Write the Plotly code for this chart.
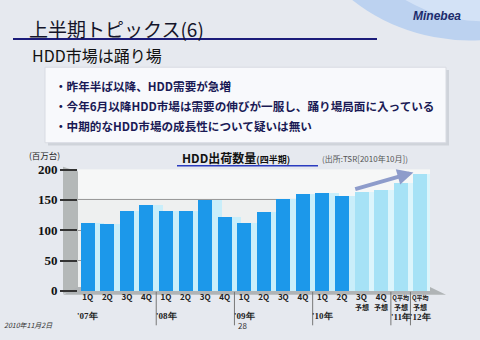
import plotly.graph_objects as go

# ---- data ----
quarters = ["1Q", "2Q", "3Q", "4Q", "1Q", "2Q", "3Q", "4Q", "1Q", "2Q", "3Q", "4Q",
            "1Q", "2Q", "3Q", "4Q", "Q平均", "Q平均"]
shipments = [112, 111, 133, 143, 132, 132, 151, 122, 113, 131, 152, 160,
             162, 157, 163, 167, 178, 194]
is_forecast = [False] * 14 + [True] * 4
year_labels = ["'07年", "'08年", "'09年", "'10年"]
year_first_bar = [0, 4, 8, 12]
forecast_years = ["'11年", "'12年"]
y_ticks = [0, 50, 100, 150, 200]
bullets = [
    "・昨年半ば以降、HDD需要が急増",
    "・今年6月以降HDD市場は需要の伸びが一服し、踊り場局面に入っている",
    "・中期的なHDD市場の成長性について疑いは無い",
]

W, H = 480, 340
def px(x): return x / W
def py(y): return 1 - y / H

JP = "Noto Sans CJK JP"
SERIF = "Liberation Serif"
xs = list(range(len(shipments)))

main_colors = ["#a6e2f6" if f else "#1c98ea" for f in is_forecast]
depth_colors = ["#dcf5fc" if f else "#c9eefa" for f in is_forecast]

fig = go.Figure()
fig.add_trace(go.Bar(x=xs, y=shipments, width=0.72, offset=0.12,
                     marker=dict(color=depth_colors, line=dict(width=0)),
                     hoverinfo="skip"))
fig.add_trace(go.Bar(x=xs, y=shipments, width=0.72, offset=-0.36,
                     marker=dict(color=main_colors, line=dict(width=0))))

shapes = []
# top-right decorative sphere
shapes.append(dict(type="circle", xref="paper", yref="paper",
                   x0=px(285), x1=px(655), y0=py(-335), y1=py(35),
                   fillcolor="#bcd2f0", line=dict(width=0), layer="below"))
shapes.append(dict(type="circle", xref="paper", yref="paper",
                   x0=px(330), x1=px(640), y0=py(-300), y1=py(15),
                   fillcolor="#d3e2f6", line=dict(width=0), layer="below"))
# title underline
shapes.append(dict(type="line", xref="paper", yref="paper",
                   x0=px(13), x1=px(377), y0=py(33.5), y1=py(33.5),
                   line=dict(color="#1c1c7a", width=2)))
# bullet box shadow + box
shapes.append(dict(type="rect", xref="paper", yref="paper",
                   x0=px(48), x1=px(449), y0=py(145), y1=py(66),
                   fillcolor="#cfd3da", line=dict(width=0), layer="below"))
shapes.append(dict(type="rect", xref="paper", yref="paper",
                   x0=px(45), x1=px(446), y0=py(142), y1=py(63),
                   fillcolor="#f8f9fc", line=dict(color="#d8dbe2", width=1), layer="below"))
# chart title underline
shapes.append(dict(type="line", xref="paper", yref="paper",
                   x0=px(177), x1=px(318), y0=py(166), y1=py(166),
                   line=dict(color="#2a3cc0", width=1.5)))
# back wall
shapes.append(dict(type="rect", xref="paper", yref="paper",
                   x0=px(78), x1=px(430), y0=py(297), y1=py(170),
                   fillcolor="#eef0f0", line=dict(width=0), layer="below"))
shapes.append(dict(type="rect", xref="paper", yref="paper",
                   x0=px(78), x1=px(430), y0=py(200), y1=py(170),
                   fillcolor="#f6f7f7", line=dict(width=0), layer="below"))
# left wall
shapes.append(dict(type="path", xref="paper", yref="paper",
                   path=f"M {px(63)} {py(300)} L {px(78)} {py(297)} L {px(78)} {py(172)} L {px(63)} {py(167)} Z",
                   fillcolor="#b4b8b8", line=dict(width=0), layer="below"))
# floor
shapes.append(dict(type="path", xref="paper", yref="paper",
                   path=f"M {px(63)} {py(301)} L {px(446)} {py(301)} L {px(430)} {py(293)} L {px(78)} {py(293)} Z",
                   fillcolor="#b0b4b6", line=dict(width=0), layer="below"))
# year separators
for sx in [3.5, 7.5, 11.5, 15.5, 16.5]:
    shapes.append(dict(type="line", xref="x", yref="paper",
                       x0=sx, x1=sx, y0=py(298), y1=py(333),
                       line=dict(color="#777777", width=1)))

ann = []
def t(x, y, text, size, color="#111111", family=JP, anchor="left", yanchor="middle", **kw):
    ann.append(dict(x=px(x), y=py(y), xref="paper", yref="paper", text=text,
                    showarrow=False, xanchor=anchor, yanchor=yanchor,
                    font=dict(size=size, color=color, family=family), **kw))

t(27, 23, "上半期トピックス(6)", 19, "#15152a")
t(30, 50, "HDD市場は踊り場", 16, "#111111")
t(463, 0, "<b><i>Minebea</i></b>", 12, "#1c2c6c", family="Liberation Sans",
  anchor="right", yanchor="top")
for i, b in enumerate(bullets):
    t(53, 83 + i * 21, f"<b>{b}</b>", 11.6, "#1a1a55")
t(27, 155, "(百万台)", 8.5, "#222222")
t(180, 157, "<b>HDD出荷数量</b><span style='font-size:9px'><b>(四半期)</b></span>", 12, "#111111")
t(320, 158, "(出所:TSR[2010年10月])", 8, "#555555")
t(2, 333, "<i>2010年11月2日</i>", 7, "#333333")
t(236, 333, "28", 8, "#333333")

for lbl, bi in zip(year_labels, year_first_bar):
    ann.append(dict(x=bi, y=py(323), xref="x", yref="paper", text=f"<b>{lbl}</b>",
                    showarrow=False, xanchor="center", yanchor="middle",
                    font=dict(size=9, color="#222222", family=SERIF)))
for bi in [14, 15, 16, 17]:
    ann.append(dict(x=bi, y=py(314), xref="x", yref="paper", text="<b>予想</b>",
                    showarrow=False, xanchor="center", yanchor="middle",
                    font=dict(size=7, color="#222222", family=JP)))
for lbl, bi in zip(forecast_years, [16, 17]):
    ann.append(dict(x=bi, y=py(324), xref="x", yref="paper", text=f"<b>{lbl}</b>",
                    showarrow=False, xanchor="center", yanchor="middle",
                    font=dict(size=9, color="#222222", family=SERIF)))
# trend arrow
ann.append(dict(x=16.65, y=195, ax=13.6, ay=167, xref="x", yref="y", axref="x", ayref="y",
                text="", showarrow=True, arrowhead=2, arrowsize=0.8, arrowwidth=4,
                arrowcolor="#8e9ccb"))

ticktext = [("<span style='font-size:6px'>" + q + "</span>") if q == "Q平均" else q
            for q in quarters]

fig.update_layout(
    width=W, height=H, margin=dict(l=0, r=0, t=0, b=0),
    paper_bgcolor="#e6e9ef", plot_bgcolor="rgba(0,0,0,0)",
    barmode="overlay", showlegend=False, bargap=0,
    shapes=shapes, annotations=ann,
    xaxis=dict(domain=[px(78), px(430)], range=[-0.5, 17.5],
               tickmode="array", tickvals=xs, ticktext=ticktext,
               tickfont=dict(size=8, color="#222222", family=JP, weight="bold"),
               showgrid=False, zeroline=False, showline=False, ticks=""),
    yaxis=dict(domain=[py(297), py(170)], range=[0, 200],
               tickmode="array", tickvals=y_ticks,
               tickfont=dict(size=13, color="#111111", family=SERIF, weight="bold"),
               ticks="outside", ticklen=17, tickwidth=1.5, tickcolor="#333333",
               showgrid=True, gridcolor="#9a9a9a", gridwidth=1,
               zeroline=False, showline=False),
)

fig.write_html("out.html")
